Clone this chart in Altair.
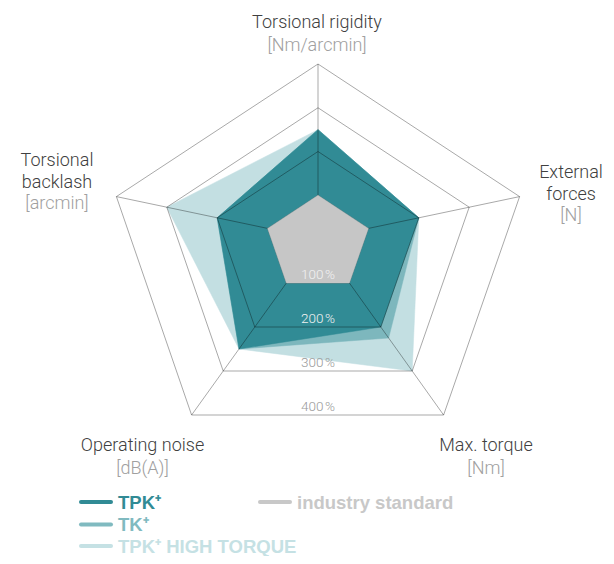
import altair as alt
import pandas as pd

# ---------------- data ----------------
axis_names = ["Torsional rigidity", "External forces", "Max. torque", "Operating noise", "Torsional backlash"]
axis_units = ["[Nm/arcmin]", "[N]", "[Nm]", "[dB(A)]", "[arcmin]"]
series_names = ["TPK⁺", "TK⁺", "TPK⁺ HIGH TORQUE", "industry standard"]
tpk = [250, 200, 200, 250, 200]
tk = [250, 200, 225, 250, 200]
tpk_high_torque = [250, 200, 300, 250, 300]
industry_standard = [100, 100, 100, 100, 100]
ring_values = [100, 200, 300, 400]
ring_labels = ["100\u202f%", "200\u202f%", "300\u202f%", "400\u202f%"]

# ---------------- layout / style ----------------
W, H = 598, 548
X0, Y0 = 8, 8
CX, CY = 318, 239
# pixel offset of each spoke for 100 %
SPOKE = [(0.0, -43.75), (50.4, -10.6), (31.4, 44.0), (-31.6, 44.0), (-50.4, -10.6)]
DARK, MEDIUM, LIGHT, GRAY = "#318b95", "#7db7bd", "#c3dfe2", "#c6c6c6"
LEGEND_COLORS = ["#318b95", "#80bac0", "#c5e1e4", "#c8c8c8"]
FONT = "Roboto"

XS = alt.Scale(domain=[X0, X0 + W], nice=False, zero=False)
X = alt.X("x:Q", scale=XS, axis=None)
Y = alt.Y("y:Q", scale=alt.Scale(domain=[Y0, Y0 + H], nice=False, zero=False, reverse=True), axis=None)


def point(k, v):
    return CX + v / 100 * SPOKE[k][0], CY + v / 100 * SPOKE[k][1]


def polygon(values, name):
    rows = []
    for i in range(len(values) + 1):
        k = i % len(values)
        x, y = point(k, values[k])
        rows.append({"series": name, "i": i, "x": x, "y": y})
    return pd.DataFrame(rows)


def fill_layer(values, name, color):
    return alt.Chart(polygon(values, name)).mark_line(
        fill=color, stroke=color, strokeWidth=0.5, fillOpacity=1
    ).encode(x=X, y=Y, order="i:Q")


# grid rings
ring_df = pd.concat([polygon([r] * 5, str(r)) for r in ring_values]).rename(columns={"series": "ring"})
rings = alt.Chart(ring_df).mark_line(stroke="#000000", strokeOpacity=0.34, strokeWidth=1).encode(
    x=X, y=Y, order="i:Q", detail="ring:N"
)

# spokes
spoke_rows = []
for k in range(5):
    x2, y2 = point(k, ring_values[-1])
    spoke_rows.append({"x": CX, "y": CY, "x2": x2, "y2": y2})
spokes = alt.Chart(pd.DataFrame(spoke_rows)).mark_rule(stroke="#000000", strokeOpacity=0.34, strokeWidth=1).encode(
    x=X, y=Y, x2="x2:Q", y2="y2:Q"
)

# ring labels (just above the bottom edge of each ring)
rl_df = pd.DataFrame({
    "label": ring_labels,
    "x": [CX] * 4,
    "y": [CY + r / 100 * SPOKE[2][1] for r in ring_values],
    "inner": [r <= 200 for r in ring_values],
})
ring_text_in = alt.Chart(rl_df).transform_filter("datum.inner").mark_text(
    font=FONT, fontSize=13.5, fontWeight=300, color="#f2f2f2", baseline="alphabetic", dy=-4
).encode(x=X, y=Y, text="label:N")
ring_text_out = alt.Chart(rl_df).transform_filter("!datum.inner").mark_text(
    font=FONT, fontSize=13.5, fontWeight=300, color="#999999", baseline="alphabetic", dy=-4
).encode(x=X, y=Y, text="label:N")

# axis labels
name_lines = [["Torsional rigidity"], ["External", "forces"], ["Max. torque"], ["Operating noise"], ["Torsional", "backlash"]]
anchors = [(317, 28), (571, 178), (486, 451), (142.5, 451), (57, 166)]
LINE = 21.5
name_rows, unit_rows = [], []
for k in range(5):
    ax, ay = anchors[k]
    for j, t in enumerate(name_lines[k]):
        name_rows.append({"text": t, "x": ax, "y": ay + j * LINE})
    unit_rows.append({"text": axis_units[k], "x": ax, "y": ay + len(name_lines[k]) * LINE + (1 if len(name_lines[k]) == 1 else 0)})
names = alt.Chart(pd.DataFrame(name_rows)).mark_text(
    font=FONT, fontSize=18, fontWeight=300, color="#404040", baseline="alphabetic"
).encode(x=X, y=Y, text="text:N")
units = alt.Chart(pd.DataFrame(unit_rows)).mark_text(
    font=FONT, fontSize=18, fontWeight=300, color="#a0a0a0", baseline="alphabetic"
).encode(x=X, y=Y, text="text:N")

# legend
leg_pos = [(81, 502), (81, 524.5), (81, 546), (260, 502)]
leg_df = pd.DataFrame({
    "series": series_names,
    "x": [p[0] for p in leg_pos],
    "x2": [p[0] + 30 for p in leg_pos],
    "xt": [p[0] + 37 for p in leg_pos],
    "y": [p[1] for p in leg_pos],
})
col = alt.Color("series:N", scale=alt.Scale(domain=series_names, range=LEGEND_COLORS), legend=None)
leg_lines = alt.Chart(leg_df).mark_rule(strokeWidth=4, strokeCap="round").encode(
    x=X, x2="x2:Q", y=Y, color=col
)
leg_text = alt.Chart(leg_df).mark_text(
    font="Liberation Sans", fontSize=18.5, fontWeight="bold", align="left", baseline="middle", dy=0.5
).encode(x=alt.X("xt:Q", scale=XS, axis=None), y=Y, text="series:N", color=col)

chart = alt.layer(
    fill_layer(tpk_high_torque, series_names[2], LIGHT),
    fill_layer(tk, series_names[1], MEDIUM),
    fill_layer(tpk, series_names[0], DARK),
    rings,
    spokes,
    fill_layer(industry_standard, series_names[3], GRAY),
    ring_text_in,
    ring_text_out,
    names,
    units,
    leg_lines,
    leg_text,
).properties(width=W, height=H, padding=0, autosize="none").configure_view(strokeWidth=0)

chart.save("out.html", embed_options={"renderer": "svg", "actions": False})
